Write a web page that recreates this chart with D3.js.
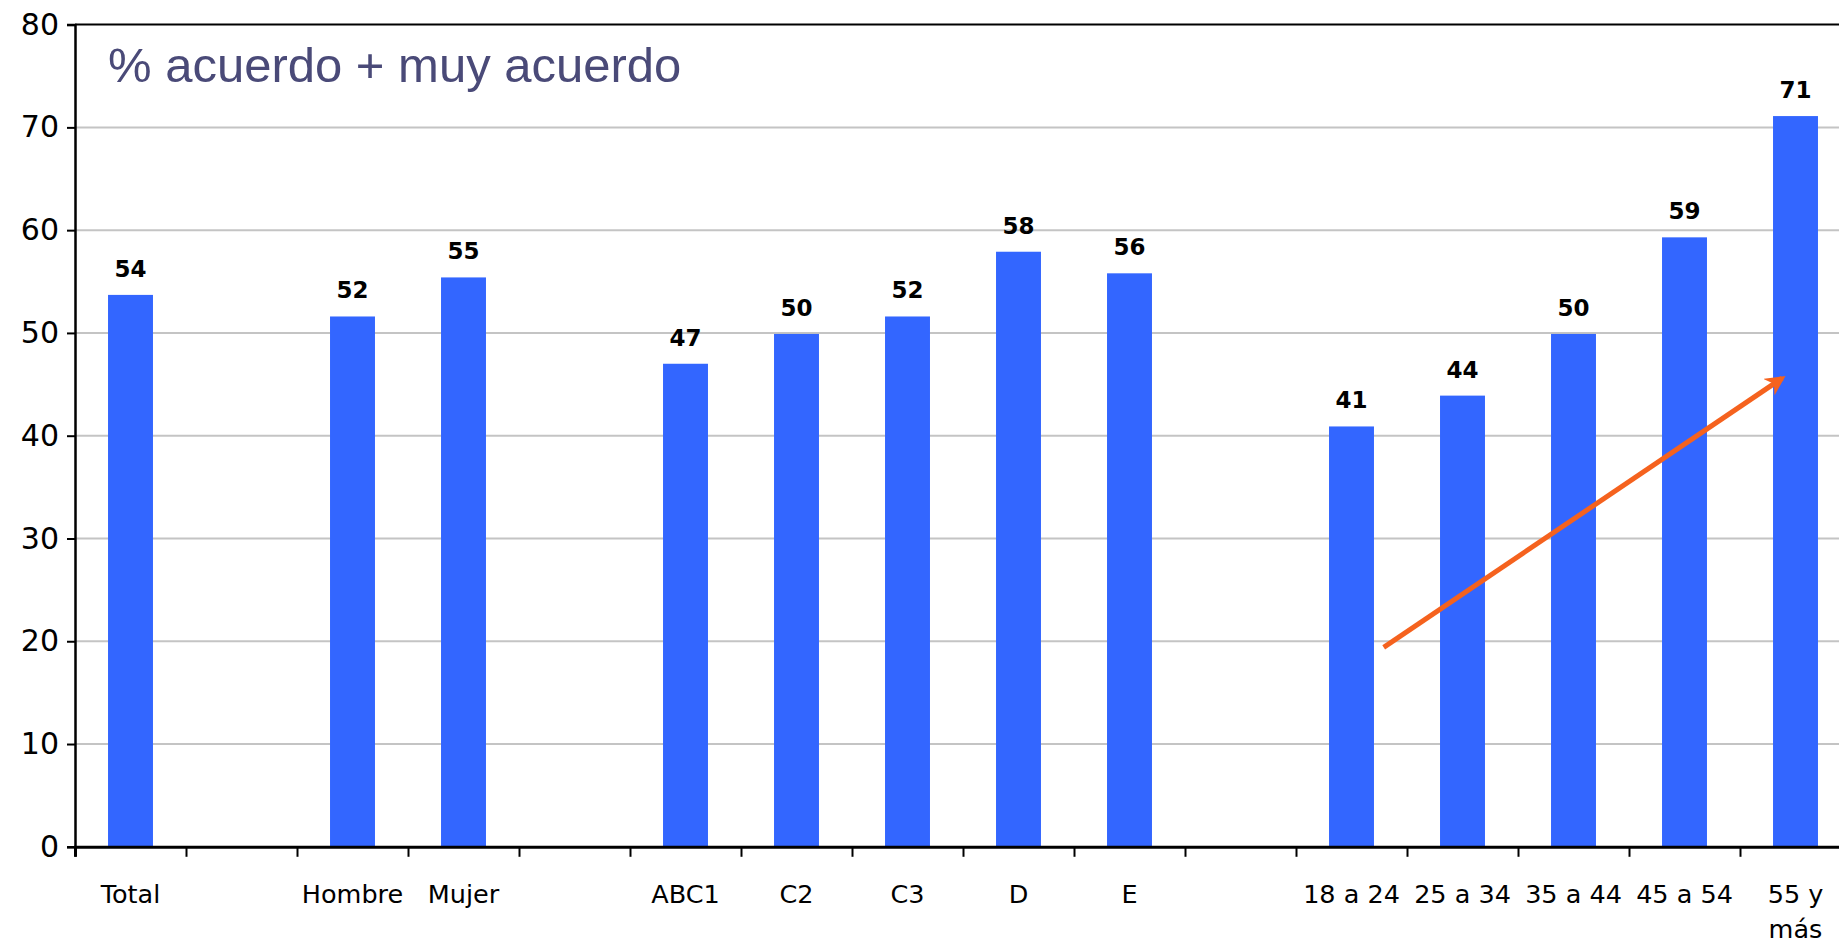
<!DOCTYPE html>
<html>
<head>
<meta charset="utf-8">
<script src="https://cdn.jsdelivr.net/npm/d3@7"></script>
<style>
  html, body { margin: 0; padding: 0; background: #ffffff; overflow: hidden; }
  svg { display: block; }
</style>
</head>
<body>
<svg id="chart" width="1839" height="944"></svg>
<script>
// ---- data ----
const categories = ["Total", null, "Hombre", "Mujer", null, "ABC1", "C2", "C3", "D", "E", null, "18 a 24", "25 a 34", "35 a 44", "45 a 54", "55 y más"];
const values     = [53.7, null, 51.6, 55.4, null, 47.0, 49.9, 51.6, 57.9, 55.8, null, 40.9, 43.9, 49.9, 59.3, 71.1];
const valueLabels = ["54", null, "52", "55", null, "47", "50", "52", "58", "56", null, "41", "44", "50", "59", "71"];
const yTicks = [0, 10, 20, 30, 40, 50, 60, 70, 80];
const titleText = "% acuerdo + muy acuerdo";
// trend arrow annotation in data space: [slot position, value]
const arrowFrom = [11.79, 19.4];
const arrowTo   = [15.38, 45.6];

(function () {
// ---- layout ----
const svg = d3.select("#chart");
const pLeft = 75, pRight = 1851, pTop = 24.6, pBottom = 846.8;

const x = d3.scaleBand().domain(d3.range(categories.length)).range([pLeft, pRight]).padding(0);
const xPos = d3.scaleLinear().domain([0, categories.length]).range([pLeft, pRight]);
const y = d3.scaleLinear().domain([0, 80]).range([pBottom, pTop]);
const barW = x.bandwidth() * 0.405;

// gridlines
svg.append("g").selectAll("line").data(yTicks.filter(d => d > 0 && d < 80)).join("line")
  .attr("x1", pLeft).attr("x2", pRight)
  .attr("y1", d => y(d)).attr("y2", d => y(d))
  .attr("stroke", "#c4c4c4").attr("stroke-width", 2);

// top frame line
svg.append("line").attr("x1", pLeft).attr("x2", pRight).attr("y1", y(80)).attr("y2", y(80))
  .attr("stroke", "#000").attr("stroke-width", 2);

// bars
const data = categories.map((c, i) => ({ i, c, v: values[i], lab: valueLabels[i] }));
svg.append("g").selectAll("rect").data(data.filter(d => d.v != null)).join("rect")
  .attr("x", d => x(d.i) + x.bandwidth() / 2 - barW / 2)
  .attr("width", barW)
  .attr("y", d => y(d.v))
  .attr("height", d => y(0) - y(d.v))
  .attr("fill", "#3366ff");

// value labels
svg.append("g").selectAll("text").data(data.filter(d => d.v != null)).join("text")
  .attr("x", d => x(d.i) + x.bandwidth() / 2)
  .attr("y", d => y(d.v) - 18)
  .attr("text-anchor", "middle")
  .attr("font-family", "DejaVu Sans, sans-serif")
  .attr("font-weight", "bold")
  .attr("font-size", 23)
  .attr("fill", "#000")
  .text(d => d.lab);

// y axis
const yAxis = d3.axisLeft(y).tickValues(yTicks).tickSize(8).tickPadding(8).tickFormat(d3.format("d"));
const gy = svg.append("g").attr("transform", `translate(${pLeft},0)`).call(yAxis);
gy.select(".domain").attr("stroke", "#000").attr("stroke-width", 2.5);
gy.selectAll(".tick line").attr("stroke", "#000").attr("stroke-width", 2);
gy.selectAll(".tick text").attr("font-family", "DejaVu Sans, sans-serif")
  .attr("font-size", 30).attr("fill", "#000");

// x axis
const xAxis = d3.axisBottom(xPos).tickValues(d3.range(categories.length + 1)).tickSize(10).tickFormat("");
const gx = svg.append("g").attr("transform", `translate(0,${pBottom})`).call(xAxis);
gx.select(".domain").attr("stroke", "#000").attr("stroke-width", 3);
gx.selectAll(".tick line").attr("stroke", "#000").attr("stroke-width", 2);

// x labels
const xl = svg.append("g").selectAll("text").data(data.filter(d => d.c != null)).join("text")
  .attr("x", d => x(d.i) + x.bandwidth() / 2)
  .attr("y", pBottom + 56)
  .attr("text-anchor", "middle")
  .attr("font-family", "DejaVu Sans, sans-serif")
  .attr("font-size", 25.5)
  .attr("fill", "#000");
xl.each(function(d) {
  const t = d3.select(this);
  if (d.c === "55 y más") {
    t.append("tspan").attr("x", x(d.i) + x.bandwidth() / 2).attr("dy", 0).text("55 y");
    t.append("tspan").attr("x", x(d.i) + x.bandwidth() / 2).attr("dy", 35).text("más");
  } else {
    t.text(d.c);
  }
});

// title
svg.append("text")
  .attr("x", 108).attr("y", 82)
  .attr("font-family", "Liberation Sans, Arial, sans-serif")
  .attr("font-size", 49)
  .attr("fill", "#4a4a78")
  .text(titleText);

// arrow
const defs = svg.append("defs");
defs.append("marker").attr("id", "ah").attr("viewBox", "0 0 10 10")
  .attr("refX", 8).attr("refY", 5).attr("markerWidth", 4).attr("markerHeight", 4)
  .attr("orient", "auto")
  .append("path").attr("d", "M0,0 L10,5 L0,10 L3,5 Z").attr("fill", "#f5621e");
svg.append("line")
  .attr("x1", xPos(arrowFrom[0])).attr("y1", y(arrowFrom[1]))
  .attr("x2", xPos(arrowTo[0])).attr("y2", y(arrowTo[1]))
  .attr("stroke", "#f5621e").attr("stroke-width", 5)
  .attr("marker-end", "url(#ah)");
})();
</script>
</body>
</html>
